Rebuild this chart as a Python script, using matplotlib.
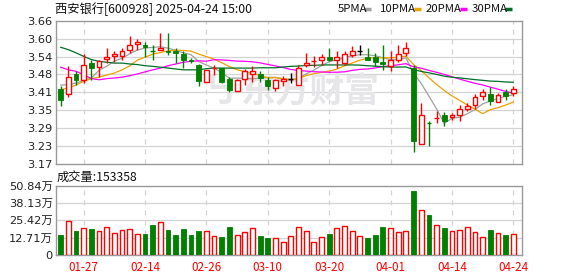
import numpy as np
import pandas as pd
import matplotlib
matplotlib.use("Agg")
import matplotlib.pyplot as plt
from matplotlib.lines import Line2D

# ---------------- data ----------------
title = "西安银行[600928] 2025-04-24 15:00"
vol_title = "成交量:153358"

open_ = [3.426, 3.410, 3.478, 3.457, 3.515, 3.501, 3.528, 3.538, 3.538, 3.559,
         3.579, 3.578, 3.556, 3.559, 3.557, 3.557, 3.546, 3.527, 3.510, 3.449,
         3.498, 3.498, 3.461, 3.421, 3.461, 3.478, 3.478, 3.458, 3.430, 3.453,
         3.460, 3.439, 3.510, 3.523, 3.526, 3.535, 3.527, 3.515, 3.542, 3.555,
         3.535, 3.535, 3.518, 3.506, 3.527, 3.550, 3.498, 3.239, 3.310, 3.327,
         3.337, 3.330, 3.339, 3.359, 3.371, 3.401, 3.409, 3.382, 3.416, 3.413]
close = [3.390, 3.466, 3.458, 3.507, 3.499, 3.523, 3.535, 3.546, 3.555, 3.576,
         3.587, 3.569, 3.556, 3.567, 3.552, 3.549, 3.527, 3.522, 3.453, 3.490,
         3.498, 3.449, 3.424, 3.458, 3.487, 3.487, 3.464, 3.436, 3.458, 3.460,
         3.460, 3.498, 3.515, 3.523, 3.535, 3.527, 3.535, 3.546, 3.555, 3.555,
         3.527, 3.518, 3.512, 3.525, 3.546, 3.567, 3.250, 3.339, 3.310, 3.327,
         3.318, 3.336, 3.359, 3.369, 3.398, 3.416, 3.384, 3.407, 3.401, 3.426]
high = [3.436, 3.506, 3.487, 3.546, 3.527, 3.527, 3.567, 3.557, 3.567, 3.607,
        3.597, 3.587, 3.576, 3.618, 3.619, 3.567, 3.555, 3.531, 3.512, 3.492,
        3.508, 3.498, 3.466, 3.461, 3.496, 3.504, 3.489, 3.466, 3.461, 3.470,
        3.481, 3.510, 3.549, 3.540, 3.546, 3.567, 3.555, 3.555, 3.572, 3.577,
        3.567, 3.550, 3.578, 3.555, 3.576, 3.587, 3.510, 3.379, 3.316, 3.350,
        3.347, 3.344, 3.371, 3.379, 3.409, 3.427, 3.432, 3.413, 3.427, 3.438]
low = [3.369, 3.399, 3.441, 3.447, 3.458, 3.466, 3.515, 3.518, 3.527, 3.550,
       3.559, 3.535, 3.527, 3.559, 3.543, 3.515, 3.498, 3.515, 3.438, 3.449,
       3.476, 3.447, 3.416, 3.421, 3.441, 3.450, 3.449, 3.424, 3.419, 3.438,
       3.447, 3.439, 3.501, 3.500, 3.510, 3.521, 3.498, 3.510, 3.535, 3.544,
       3.525, 3.505, 3.490, 3.489, 3.518, 3.538, 3.210, 3.239, 3.231, 3.310,
       3.300, 3.321, 3.318, 3.350, 3.359, 3.390, 3.371, 3.382, 3.390, 3.401]
# volume in 万
volume = [14.7, 24.9, 17.6, 19.6, 19.1, 17.6, 20.3, 16.1, 18.1, 18.8,
          15.4, 15.7, 22.0, 24.0, 18.3, 14.7, 19.1, 14.7, 17.6, 17.6,
          13.9, 13.2, 20.5, 14.7, 16.9, 19.6, 13.9, 12.5, 12.5, 9.5,
          13.9, 20.3, 17.4, 9.5, 13.0, 15.4, 19.6, 21.0, 17.4, 13.7,
          12.5, 14.7, 20.5, 19.6, 16.9, 17.4, 47.0, 32.8, 29.3, 22.0,
          19.8, 17.4, 18.1, 20.3, 16.9, 13.0, 18.3, 16.1, 14.7, 15.3358]

ma5_head = [3.440, 3.441, 3.447, 3.456]
ma10_head = [3.424, 3.430, 3.440, 3.453, 3.462, 3.467, 3.474, 3.481, 3.492]
ma20_head = [3.501, 3.492, 3.487, 3.475, 3.462, 3.458, 3.462, 3.464, 3.467, 3.472,
             3.478, 3.485, 3.492, 3.498, 3.506, 3.512, 3.518, 3.521, 3.523]
ma30_head = [3.569, 3.561, 3.550, 3.538, 3.527, 3.521, 3.518, 3.515, 3.515, 3.512,
             3.510, 3.506, 3.504, 3.501, 3.498, 3.495, 3.492, 3.492, 3.492, 3.496,
             3.498, 3.498, 3.498, 3.498, 3.498, 3.498, 3.499, 3.499, 3.499]

date_ticks = [3, 11, 19, 27, 35, 43, 51, 59]
date_labels = ["01-27", "02-14", "02-26", "03-10", "03-20", "04-01", "04-14", "04-24"]

price_ticks = [3.17 + k * 0.06125 for k in range(9)]
price_labels = ["3.17", "3.23", "3.29", "3.35", "3.41", "3.48", "3.54", "3.60", "3.66"]
vol_ticks = [0, 12.71, 25.42, 38.13, 50.84]
vol_labels = ["0", "12.71万", "25.42万", "38.13万", "50.84万"]

ma_names = ["5PMA", "10PMA", "20PMA", "30PMA"]

# ---------------- style ----------------
RED = "#ff0000"
GREEN = "#008000"
ma_colors = ["#a0a0a0", "#f0a000", "#ff00ff", "#006e28"]
FRAME = "#9a9a9a"
GRID = "#d4d4d4"
WM = "#e6e6e9"
CJK = ["Noto Sans CJK SC", "DejaVu Sans"]
LAT = ["DejaVu Sans", "Noto Sans CJK SC"]

W, H = 578, 276
fig = plt.figure(figsize=(W / 100, H / 100), dpi=100)

def pos(l, t, r, b):
    return [l / W, 1 - b / H, (r - l) / W, (b - t) / H]

ax = fig.add_axes(pos(55.5, 20.7, 522, 164))
axv = fig.add_axes(pos(55.5, 185.7, 522, 255))

n = len(close)
x = np.arange(n)
o = np.array(open_); c = np.array(close); h = np.array(high); l = np.array(low)

colors = []
for i in range(n):
    if c[i] > o[i]:
        colors.append(RED)
    elif c[i] < o[i]:
        colors.append(GREEN)
    else:
        prev = c[i - 1] if i > 0 else c[i]
        colors.append(RED if c[i] > prev else (GREEN if c[i] < prev else "#000000"))

bw = 0.62
cs = pd.Series(c)
def ma(win, head):
    v = cs.rolling(win).mean().to_numpy()
    v[:win - 1] = head
    return v
mas = [ma(5, ma5_head), ma(10, ma10_head), ma(20, ma20_head), ma(30, ma30_head)]

xl = (-0.68, 60.14)
for a in (ax, axv):
    a.set_xlim(*xl)
    for s in a.spines.values():
        s.set_color(FRAME)
        s.set_linewidth(1.0)
    a.tick_params(length=0)
    for d in date_ticks:
        a.axvline(d, color=GRID, lw=0.9, ls=(0, (4, 4)), zorder=0)

ax.set_ylim(3.17, 3.66)
ax.set_yticks(price_ticks)
ax.set_yticklabels(price_labels, family=LAT, fontsize=8.2, color="#222222")
ax.tick_params(axis="y", pad=2)
ax.set_xticks([])
for t in price_ticks[1:-1]:
    ax.axhline(t, color=GRID, lw=0.9, zorder=0)

# watermark (behind the candles)
ax.text(310 / W, 1 - 91 / H, "东方财富", transform=fig.transFigure, fontsize=25, fontweight="bold",
        family=CJK, color=WM, ha="center", va="center", zorder=0.5, clip_on=False)
ax.text(220 / W, 1 - 91 / H, "㇉", transform=fig.transFigure, fontsize=25, fontweight="bold",
        family=CJK, color=WM, ha="center", va="center", zorder=0.5, clip_on=False)

for m, col in zip(mas, ma_colors):
    ax.plot(x, m, color=col, lw=0.9, zorder=2)

for i in range(n):
    col = colors[i]
    top, bot = max(o[i], c[i]), min(o[i], c[i])
    if col == RED and c[i] > o[i]:
        ax.vlines(i, top, h[i], color=col, lw=1.0, zorder=3)
        ax.vlines(i, l[i], bot, color=col, lw=1.0, zorder=3)
        ax.bar(i, top - bot, bw, bottom=bot, facecolor="white", edgecolor=col, lw=1.0, zorder=3)
    elif top > bot:
        ax.vlines(i, l[i], h[i], color=col, lw=1.0, zorder=3)
        ax.bar(i, top - bot, bw, bottom=bot, facecolor=col, edgecolor=col, lw=0.6, zorder=3)
    else:
        ax.vlines(i, l[i], h[i], color=col, lw=1.0, zorder=3)
        ax.hlines(c[i], i - bw / 2, i + bw / 2, color=col, lw=1.0, zorder=3)

vcols = [GREEN if col == GREEN else RED for col in colors]
for i in range(n):
    if vcols[i] == RED:
        axv.bar(i, volume[i], bw, facecolor="white", edgecolor=RED, lw=1.0, zorder=3)
    else:
        axv.bar(i, volume[i], bw, facecolor=GREEN, edgecolor=GREEN, lw=0.6, zorder=3)
axv.set_ylim(0, 50.84)
axv.set_yticks(vol_ticks)
axv.set_yticklabels(vol_labels, family=LAT, fontsize=8.2, color="#222222")
axv.tick_params(axis="y", pad=2)
for t in vol_ticks[1:-1]:
    axv.axhline(t, color=GRID, lw=0.9, zorder=0)
axv.set_xticks(date_ticks)
axv.set_xticklabels(date_labels, family=CJK, fontsize=8.4, color=RED)
axv.tick_params(axis="x", pad=4)

fig.text(55 / W, 1 - 9 / H, title, family=CJK, fontsize=8.8, color="#111111", va="center", ha="left")
fig.text(57 / W, 1 - 177 / H, vol_title, family=CJK, fontsize=8.8, color="#111111", va="center", ha="left")

leg_x = [338, 380, 426, 471.5]
mk_x = [364, 414, 460, 505]
for name, lx, mx, col in zip(ma_names, leg_x, mk_x, ma_colors):
    fig.text(lx / W, 1 - 9 / H, name, family=CJK, fontsize=8.2, color="#111111", va="center", ha="left")
    fig.add_artist(Line2D([mx / W, (mx + 7) / W], [1 - 9 / H, 1 - 9 / H], color=col, lw=2.5,
                          solid_capstyle="butt"))

fig.savefig("out.png", dpi=100)
